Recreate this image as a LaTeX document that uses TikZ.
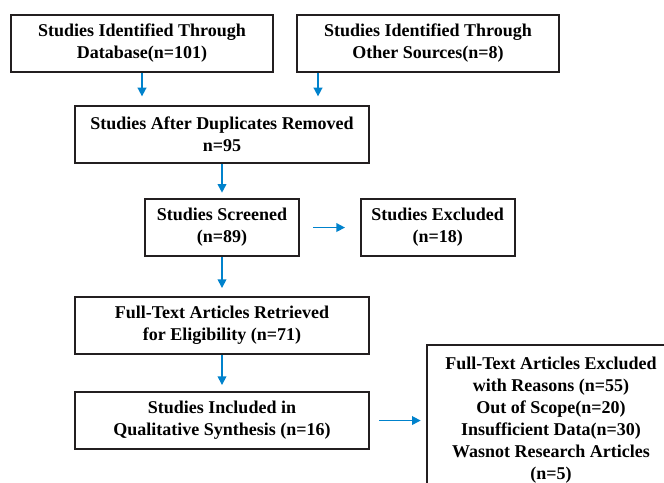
\documentclass[tikz,border=0pt]{standalone}
\usepackage{fontspec}
\setmainfont{Liberation Serif}
\usepackage{tikz}
\usepackage{xcolor}
\usetikzlibrary{arrows.meta,positioning}
\definecolor{flowblue}{RGB}{0,130,204}
\definecolor{boxline}{RGB}{35,31,32}

\begin{document}
\begin{tikzpicture}[>={Triangle[length=6.5pt,width=6.5pt]},
    stage/.style={draw=boxline, line width=1.5pt, minimum height=42.75pt, align=center, inner sep=2pt,
      font=\bfseries\fontsize{13.5}{16.5}\selectfont},
    flow/.style={->, draw=flowblue, fill=flowblue, line width=1.2pt}]
      \useasboundingbox (0,0) rectangle (498pt,-361.5pt);
      \clip (0,0) rectangle (498pt,-361.5pt);
      \node[stage, minimum width=196.5pt] (db) at (106.5pt,-32.6pt) {Studies Identified Through\\Database(n=101)};
      \node[stage, minimum width=196.5pt, right=16.5pt of db] (other) {Studies Identified Through\\Other Sources(n=8)};
      \node[stage, minimum width=220.5pt] (dup) at (166.5pt,-100.9pt) {Studies After Duplicates Removed\\n=95};
      \node[stage, minimum width=115pt, below=25.5pt of dup] (screen) {Studies Screened\\(n=89)};
      \node[stage, minimum width=115.5pt, right=45pt of screen] (excl) {Studies Excluded\\(n=18)};
      \node[stage, minimum width=220.5pt, below=29.25pt of screen] (full) {Full-Text Articles Retrieved\\for Eligibility (n=71)};
      \node[stage, minimum width=220.5pt, below=27pt of full] (incl) {Studies Included in\\Qualitative Synthesis (n=16)};
      \node[stage, minimum width=186pt, minimum height=112pt, anchor=north west, below right=-35.25pt and 42pt of incl.north east] (reasons) {Full-Text Articles Excluded\\with Reasons (n=55)\\Out of Scope(n=20)\\Insufficient Data(n=30)\\Wasnot Research Articles\\(n=5)};
      \draw[flow, shorten >=6.5pt] (db) -- (db |- dup.north);
      \draw[flow, shorten >=6.5pt] ([xshift=-82.5pt]other.south) -- ([xshift=-82.5pt]other.south |- dup.north);
      \draw[flow, shorten >=4pt] (dup) -- (dup |- screen.north);
      \draw[flow, shorten <=10pt, shorten >=11pt] (screen) -- (excl);
      \draw[flow, shorten >=6pt] (screen) -- (full);
      \draw[flow, shorten >=4.5pt] (full) -- (incl);
      \draw[flow, shorten <=7pt, shorten >=4pt] (incl.east) -- (incl.east -| reasons.west);
    \end{tikzpicture}
\end{document}
